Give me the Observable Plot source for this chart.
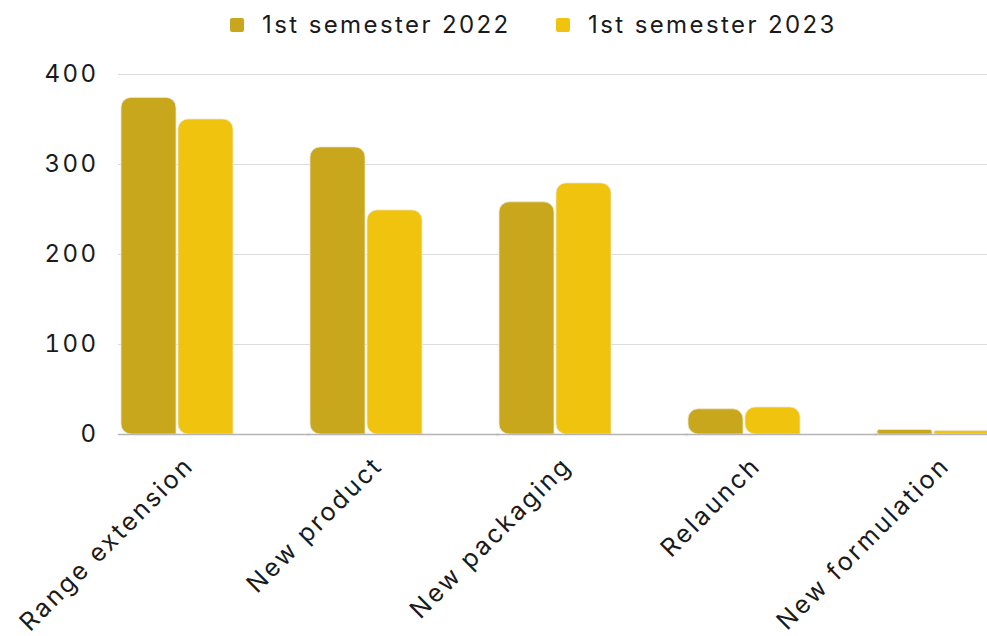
<!DOCTYPE html>
<html>
<head>
<meta charset="utf-8">
<script src="https://cdn.jsdelivr.net/npm/d3@7"></script>
<script src="https://cdn.jsdelivr.net/npm/@observablehq/plot@0.6"></script>
<style>
  html, body { margin: 0; padding: 0; background: #fff; overflow: hidden; }
  body { width: 987px; height: 636px; font-family: Inter, "Open Sans", sans-serif; }
  #legend { height: 50px; font-size: 24px; letter-spacing: 0.1em; color: #1a1a1a; }
  .item { display: flex; align-items: center; position: absolute; top: 10px; }
  .sw { width: 14px; height: 14px; border-radius: 2px; margin-right: 18px; }
  svg text { letter-spacing: 0.1em; }
</style>
</head>
<body>
<div id="legend"></div>
<div id="chart"></div>
<script>
const categories = ["Range extension", "New product", "New packaging", "Relaunch", "New formulation"];
const series = ["1st semester 2022", "1st semester 2023"];
const values2022 = [374, 319, 258, 28, 5];
const values2023 = [350, 249, 279, 30, 4];
const yTicks = [0, 100, 200, 300, 400];
const colors = ["#C9A71C", "#F0C40E"];

const data = [];
categories.forEach((c, i) => {
  data.push({category: c, series: series[0], value: values2022[i]});
  data.push({category: c, series: series[1], value: values2023[i]});
});

// legend
const legend = document.getElementById("legend");
const legendX = [230, 556];
series.forEach((s, i) => {
  const it = document.createElement("div");
  it.className = "item";
  it.style.left = legendX[i] + "px";
  const sw = document.createElement("div");
  sw.className = "sw";
  sw.style.background = colors[i];
  const t = document.createElement("span");
  t.textContent = s;
  it.appendChild(sw); it.appendChild(t);
  legend.appendChild(it);
});

const chart = Plot.plot({
  width: 987,
  height: 586,
  marginTop: 24,
  marginBottom: 202,
  marginLeft: 120,
  marginRight: -3,
  style: {fontFamily: "Inter, 'Open Sans', sans-serif", fontSize: "24px", color: "#1a1a1a", overflow: "visible"},
  fx: {domain: categories, paddingInner: 0.397, paddingOuter: 0, label: null},
  x: {domain: series, padding: 0, axis: null},
  y: {domain: [0, 400], label: null},
  color: {domain: series, range: colors},
  marks: [
    Plot.ruleY(yTicks.filter(d => d > 0), {stroke: "#dcdcdc", strokeWidth: 1.2, insetLeft: -2, insetRight: -76}),
    Plot.barY(data, {fx: "category", x: "series", y: "value", fill: "series", insetLeft: 1, insetRight: 1, ry1: 10, rx1: 10, stroke: "#ece6cf", strokeWidth: 0.8}),
    Plot.ruleY([0], {stroke: "#b5b5b5", strokeWidth: 1.5, insetLeft: -2, insetRight: -76}),
    Plot.axisY({ticks: yTicks, tickSize: 0, tickPadding: 22, fontSize: 24}),
    Plot.axisFx({anchor: "bottom", tickRotate: -45, tickSize: 0, tickPadding: 18, fontSize: 25, dx: 12, dy: 9, label: null})
  ]
});
document.getElementById("chart").appendChild(chart);
</script>
</body>
</html>
